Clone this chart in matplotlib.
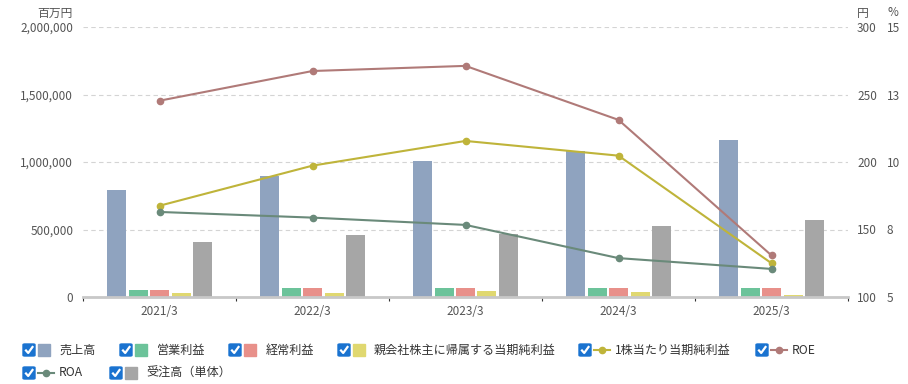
import numpy as np
import matplotlib
matplotlib.use("Agg")
from matplotlib import pyplot as plt
from matplotlib.patches import FancyBboxPatch, Rectangle
from matplotlib.lines import Line2D

plt.rcParams['font.family'] = ['Noto Sans CJK JP', 'DejaVu Sans']

# data
years = ['2021/3', '2022/3', '2023/3', '2024/3', '2025/3']
sales = [795000, 893000, 1011000, 1085000, 1166000]
op_profit = [55000, 63000, 70000, 70000, 63000]
ord_profit = [55000, 63000, 68000, 63000, 63000]
net_profit = [33000, 33000, 42000, 40000, 18000]
orders = [411000, 456000, 470000, 525000, 567000]
eps = [167.6, 197.3, 215.6, 204.7, 125.0]
roe = [12.27, 13.37, 13.56, 11.56, 6.54]
roa = [8.15, 7.94, 7.67, 6.44, 6.04]

bar_names = ['売上高', '営業利益', '経常利益', '親会社株主に帰属する当期純利益', '受注高（単体）']
bar_colors = ['#8fa3bf', '#6cc39a', '#e8908a', '#e0d870', '#a6a6a6']
eps_color = '#bfb43a'
roe_color = '#b07a78'
roa_color = '#6a8a7a'
text_color = '#555555'
fs = 8.5

fig = plt.figure(figsize=(9.08, 3.84), dpi=100)
W, H = 908, 384
ax = fig.add_axes([83 / W, (384 - 297) / H, (848 - 83) / W, (297 - 27) / H])

x = np.arange(len(years))
bw = 19 / 153
step = 21.5 / 153
series = [sales, op_profit, ord_profit, net_profit, orders]
for i, (vals, c) in enumerate(zip(series, bar_colors)):
    ax.bar(x + (i - 2) * step, vals, width=bw, color=c, zorder=2)

ax.set_xlim(-0.5, 4.5)
ax.set_ylim(0, 2000000)
ax.set_yticks([0, 500000, 1000000, 1500000, 2000000])
ax.set_yticklabels(['0', '500,000', '1,000,000', '1,500,000', '2,000,000'])
ax.yaxis.grid(True, linestyle=(0, (4, 3)), color='#d4d4d4', linewidth=0.8, zorder=0)
ax.set_axisbelow(True)
ax.tick_params(axis='y', length=0, pad=7, labelsize=fs, labelcolor=text_color)
ax.set_xticks(x)
ax.set_xticklabels(years)
ax.tick_params(axis='x', length=0, pad=6, labelsize=fs, labelcolor=text_color)
ax.set_xticks(np.arange(-0.5, 5, 1), minor=True)
ax.tick_params(axis='x', which='minor', length=3, color='#333333', width=0.8)
for s in ['top', 'right', 'left']:
    ax.spines[s].set_visible(False)
ax.spines['bottom'].set_color('#c8c8c8')
ax.spines['bottom'].set_linewidth(2)

# yen axis
ax2 = ax.twinx()
ax2.set_ylim(100, 300)
ax2.set_yticks([100, 150, 200, 250, 300])
ax2.tick_params(axis='y', length=0, pad=6.5, labelsize=fs, labelcolor=text_color)
ax2.plot(x, eps, color=eps_color, lw=1.5, marker='o', ms=4.5, zorder=3)
for s in ax2.spines.values():
    s.set_visible(False)

# percent axis
ax3 = ax.twinx()
ax3.set_ylim(5, 15)
ax3.set_yticks([5, 7.5, 10, 12.5, 15])
ax3.set_yticklabels(['5', '8', '10', '13', '15'])
ax3.tick_params(axis='y', length=0, pad=28, labelsize=fs, labelcolor=text_color)
ax3.plot(x, roe, color=roe_color, lw=1.5, marker='o', ms=4.5, zorder=3)
ax3.plot(x, roa, color=roa_color, lw=1.5, marker='o', ms=4.5, zorder=3)
for s in ax3.spines.values():
    s.set_visible(False)

# unit labels
fig.text(72 / W, 1 - 13 / H, '百万円', ha='right', va='center', fontsize=fs, color=text_color)
fig.text(857 / W, 1 - 13 / H, '円', ha='left', va='center', fontsize=fs, color=text_color)
fig.text(887 / W, 1 - 13 / H, '%', ha='left', va='center', fontsize=fs, color=text_color)


# legend with checkboxes
def checkbox(px, py):
    fig.patches.append(FancyBboxPatch(((px) / W, 1 - (py + 6) / H), 12 / W, 12 / H,
                                      boxstyle='round,pad=0,rounding_size=0.002',
                                      transform=fig.transFigure, color='#1a73d0'))
    fig.lines.append(Line2D([(px + 3) / W, (px + 5.2) / W, (px + 9.5) / W],
                            [1 - (py + 0.5) / H, 1 - (py + 3) / H, 1 - (py - 3) / H],
                            transform=fig.transFigure, color='white', lw=1.6))


def bar_item(px, py, color, label, tx):
    checkbox(px, py)
    fig.patches.append(Rectangle(((px + 15) / W, 1 - (py + 6) / H), 12 / W, 12 / H,
                                 transform=fig.transFigure, color=color))
    fig.text(tx / W, 1 - py / H, label, ha='left', va='center', fontsize=8.7, color='#333333')


def line_item(px, py, color, label, tx):
    checkbox(px, py)
    fig.lines.append(Line2D([(px + 15) / W, (px + 31) / W], [1 - py / H, 1 - py / H],
                            transform=fig.transFigure, color=color, lw=1.5))
    fig.lines.append(Line2D([(px + 23) / W], [1 - py / H], transform=fig.transFigure,
                            color=color, marker='o', ms=4.5))
    fig.text(tx / W, 1 - py / H, label, ha='left', va='center', fontsize=8.7, color='#333333')


r1, r2 = 350, 373
bar_item(23, r1, bar_colors[0], bar_names[0], 59)
bar_item(120, r1, bar_colors[1], bar_names[1], 157)
bar_item(229, r1, bar_colors[2], bar_names[2], 266)
bar_item(338, r1, bar_colors[3], bar_names[3], 374)
line_item(579, r1, eps_color, '1株当たり当期純利益', 615)
line_item(756, r1, roe_color, 'ROE', 792)
line_item(23, r2, roa_color, 'ROA', 59)
bar_item(110, r2, bar_colors[4], bar_names[4], 146)

fig.savefig('out.png', dpi=100)
